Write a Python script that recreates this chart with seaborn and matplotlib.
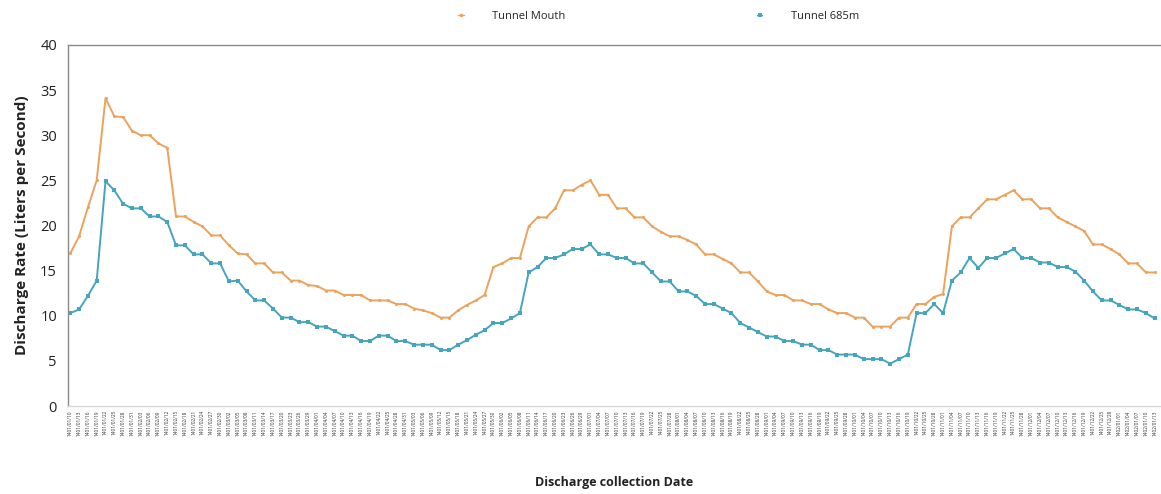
import numpy as np
import pandas as pd
import matplotlib
matplotlib.use("Agg")
import matplotlib.pyplot as plt
import seaborn as sns

series_names = ["Tunnel Mouth", "Tunnel 685m"]

tunnel_mouth = [
    16.9, 18.8, 22.0, 25.0, 34.1, 32.1, 32.0, 30.5, 30.0, 30.0,
    29.1, 28.6, 21.0, 21.0, 20.4, 19.9, 18.9, 18.9, 17.8, 16.9,
    16.8, 15.8, 15.8, 14.8, 14.8, 13.9, 13.9, 13.4, 13.3, 12.8,
    12.8, 12.3, 12.3, 12.3, 11.7, 11.7, 11.7, 11.3, 11.3, 10.8,
    10.6, 10.3, 9.8, 9.8, 10.6, 11.2, 11.7, 12.3, 15.4, 15.8,
    16.4, 16.4, 19.9, 20.9, 20.9, 21.9, 23.9, 23.9, 24.5, 25.0,
    23.4, 23.4, 21.9, 21.9, 20.9, 20.9, 19.9, 19.3, 18.8, 18.8,
    18.4, 17.9, 16.8, 16.8, 16.3, 15.8, 14.8, 14.8, 13.8, 12.7,
    12.3, 12.3, 11.7, 11.7, 11.3, 11.3, 10.7, 10.3, 10.3, 9.8,
    9.8, 8.8, 8.8, 8.8, 9.8, 9.8, 11.3, 11.3, 12.1, 12.4,
    19.9, 20.9, 20.9, 21.9, 22.9, 22.9, 23.4, 23.9, 22.9, 22.9,
    21.9, 21.9, 20.9, 20.4, 19.9, 19.4, 17.9, 17.9, 17.4, 16.8,
    15.8, 15.8, 14.8, 14.8,
]

tunnel_685m = [
    10.3, 10.7, 12.2, 13.9, 24.9, 23.9, 22.4, 21.9, 21.9, 21.0,
    21.0, 20.4, 17.8, 17.8, 16.8, 16.8, 15.8, 15.8, 13.8, 13.9,
    12.7, 11.7, 11.7, 10.8, 9.8, 9.8, 9.3, 9.3, 8.8, 8.8,
    8.3, 7.8, 7.8, 7.2, 7.2, 7.8, 7.8, 7.2, 7.2, 6.8,
    6.8, 6.8, 6.2, 6.2, 6.8, 7.3, 7.9, 8.4, 9.2, 9.2,
    9.7, 10.3, 14.8, 15.4, 16.4, 16.4, 16.8, 17.4, 17.4, 17.9,
    16.8, 16.8, 16.4, 16.4, 15.8, 15.8, 14.8, 13.8, 13.8, 12.7,
    12.7, 12.2, 11.3, 11.3, 10.8, 10.3, 9.2, 8.7, 8.2, 7.7,
    7.7, 7.2, 7.2, 6.8, 6.8, 6.2, 6.2, 5.7, 5.7, 5.7,
    5.2, 5.2, 5.2, 4.7, 5.2, 5.7, 10.3, 10.3, 11.3, 10.3,
    13.9, 14.8, 16.4, 15.3, 16.4, 16.4, 16.9, 17.4, 16.4, 16.4,
    15.9, 15.9, 15.4, 15.4, 14.9, 13.9, 12.7, 11.7, 11.7, 11.2,
    10.7, 10.7, 10.3, 9.7,
]

# collection dates (tick labels, illegible in the source; approximated)
date_labels = [
    "1401/01/10", "1401/01/13", "1401/01/16", "1401/01/19", "1401/01/22", "1401/01/25",
    "1401/01/28", "1401/01/31", "1401/02/03", "1401/02/06", "1401/02/09", "1401/02/12",
    "1401/02/15", "1401/02/18", "1401/02/21", "1401/02/24", "1401/02/27", "1401/02/30",
    "1401/03/02", "1401/03/05", "1401/03/08", "1401/03/11", "1401/03/14", "1401/03/17",
    "1401/03/20", "1401/03/23", "1401/03/26", "1401/03/29", "1401/04/01", "1401/04/04",
    "1401/04/07", "1401/04/10", "1401/04/13", "1401/04/16", "1401/04/19", "1401/04/22",
    "1401/04/25", "1401/04/28", "1401/04/31", "1401/05/03", "1401/05/06", "1401/05/09",
    "1401/05/12", "1401/05/15", "1401/05/18", "1401/05/21", "1401/05/24", "1401/05/27",
    "1401/05/30", "1401/06/02", "1401/06/05", "1401/06/08", "1401/06/11", "1401/06/14",
    "1401/06/17", "1401/06/20", "1401/06/23", "1401/06/26", "1401/06/29", "1401/07/01",
    "1401/07/04", "1401/07/07", "1401/07/10", "1401/07/13", "1401/07/16", "1401/07/19",
    "1401/07/22", "1401/07/25", "1401/07/28", "1401/08/01", "1401/08/04", "1401/08/07",
    "1401/08/10", "1401/08/13", "1401/08/16", "1401/08/19", "1401/08/22", "1401/08/25",
    "1401/08/28", "1401/09/01", "1401/09/04", "1401/09/07", "1401/09/10", "1401/09/13",
    "1401/09/16", "1401/09/19", "1401/09/22", "1401/09/25", "1401/09/28", "1401/10/01",
    "1401/10/04", "1401/10/07", "1401/10/10", "1401/10/13", "1401/10/16", "1401/10/19",
    "1401/10/22", "1401/10/25", "1401/10/28", "1401/11/01", "1401/11/04", "1401/11/07",
    "1401/11/10", "1401/11/13", "1401/11/16", "1401/11/19", "1401/11/22", "1401/11/25",
    "1401/11/28", "1401/12/01", "1401/12/04", "1401/12/07", "1401/12/10", "1401/12/13",
    "1401/12/16", "1401/12/19", "1401/12/22", "1401/12/25", "1401/12/28", "1402/01/01",
    "1402/01/04", "1402/01/07", "1402/01/10", "1402/01/13",
]

colors = {"Tunnel Mouth": "#EDA25C", "Tunnel 685m": "#45A5BD"}

n = len(tunnel_mouth)
df = pd.DataFrame({
    "idx": list(range(n)) * 2,
    "value": tunnel_mouth + tunnel_685m,
    "series": [series_names[0]] * n + [series_names[1]] * n,
})

sns.set_theme(style="white")
plt.rcParams["font.family"] = ["Open Sans", "DejaVu Sans"]

fig = plt.figure(figsize=(11.61, 4.94), dpi=100)
ax = fig.add_axes([0.0586, 0.178, 0.9405, 0.731])

sns.lineplot(data=df[df.series == "Tunnel Mouth"], x="idx", y="value", hue="series",
             palette=colors, marker="o", dashes=False, linewidth=1.4,
             markersize=2.2, markeredgewidth=0, ax=ax, legend=True)
sns.lineplot(data=df[df.series == "Tunnel 685m"], x="idx", y="value", hue="series",
             palette=colors, marker="s", dashes=False, linewidth=1.4,
             markersize=2.8, markeredgewidth=0, ax=ax, legend=True)

ax.set_xlim(-0.25, 123.6)
ax.set_ylim(0, 40)
ax.set_yticks(np.arange(0, 41, 5))
ax.tick_params(axis="y", labelsize=10.5, colors="#222222", length=0, pad=8)
ax.set_xticks(range(n))
ax.set_xticklabels(date_labels, rotation=90, fontsize=3.4, color="#333333")
ax.tick_params(axis="x", length=0, pad=3)

ax.set_xlabel("Discharge collection Date", fontsize=9, fontweight="bold",
              color="#222222", labelpad=29)
ax.set_ylabel("Discharge Rate (Liters per Second)", fontsize=11, fontweight="bold",
              color="#222222", labelpad=8)

for s in ["left", "top", "bottom"]:
    ax.spines[s].set_visible(True)
    ax.spines[s].set_color("#8a8a8a")
    ax.spines[s].set_linewidth(1.0)
ax.spines["bottom"].set_color("#d8d8d8")
ax.spines["right"].set_visible(False)

handles, labels = ax.get_legend_handles_labels()
leg = ax.legend(handles, labels, loc="lower center", bbox_to_anchor=(0.541, 1.052),
                ncol=2, frameon=False, fontsize=8, handlelength=0.5,
                columnspacing=17.2, handletextpad=2.6, borderaxespad=0)
for h in leg.legend_handles:
    h.set_linewidth(1.0)
    h.set_markersize(2.5)

fig.savefig("out.png", dpi=100)
